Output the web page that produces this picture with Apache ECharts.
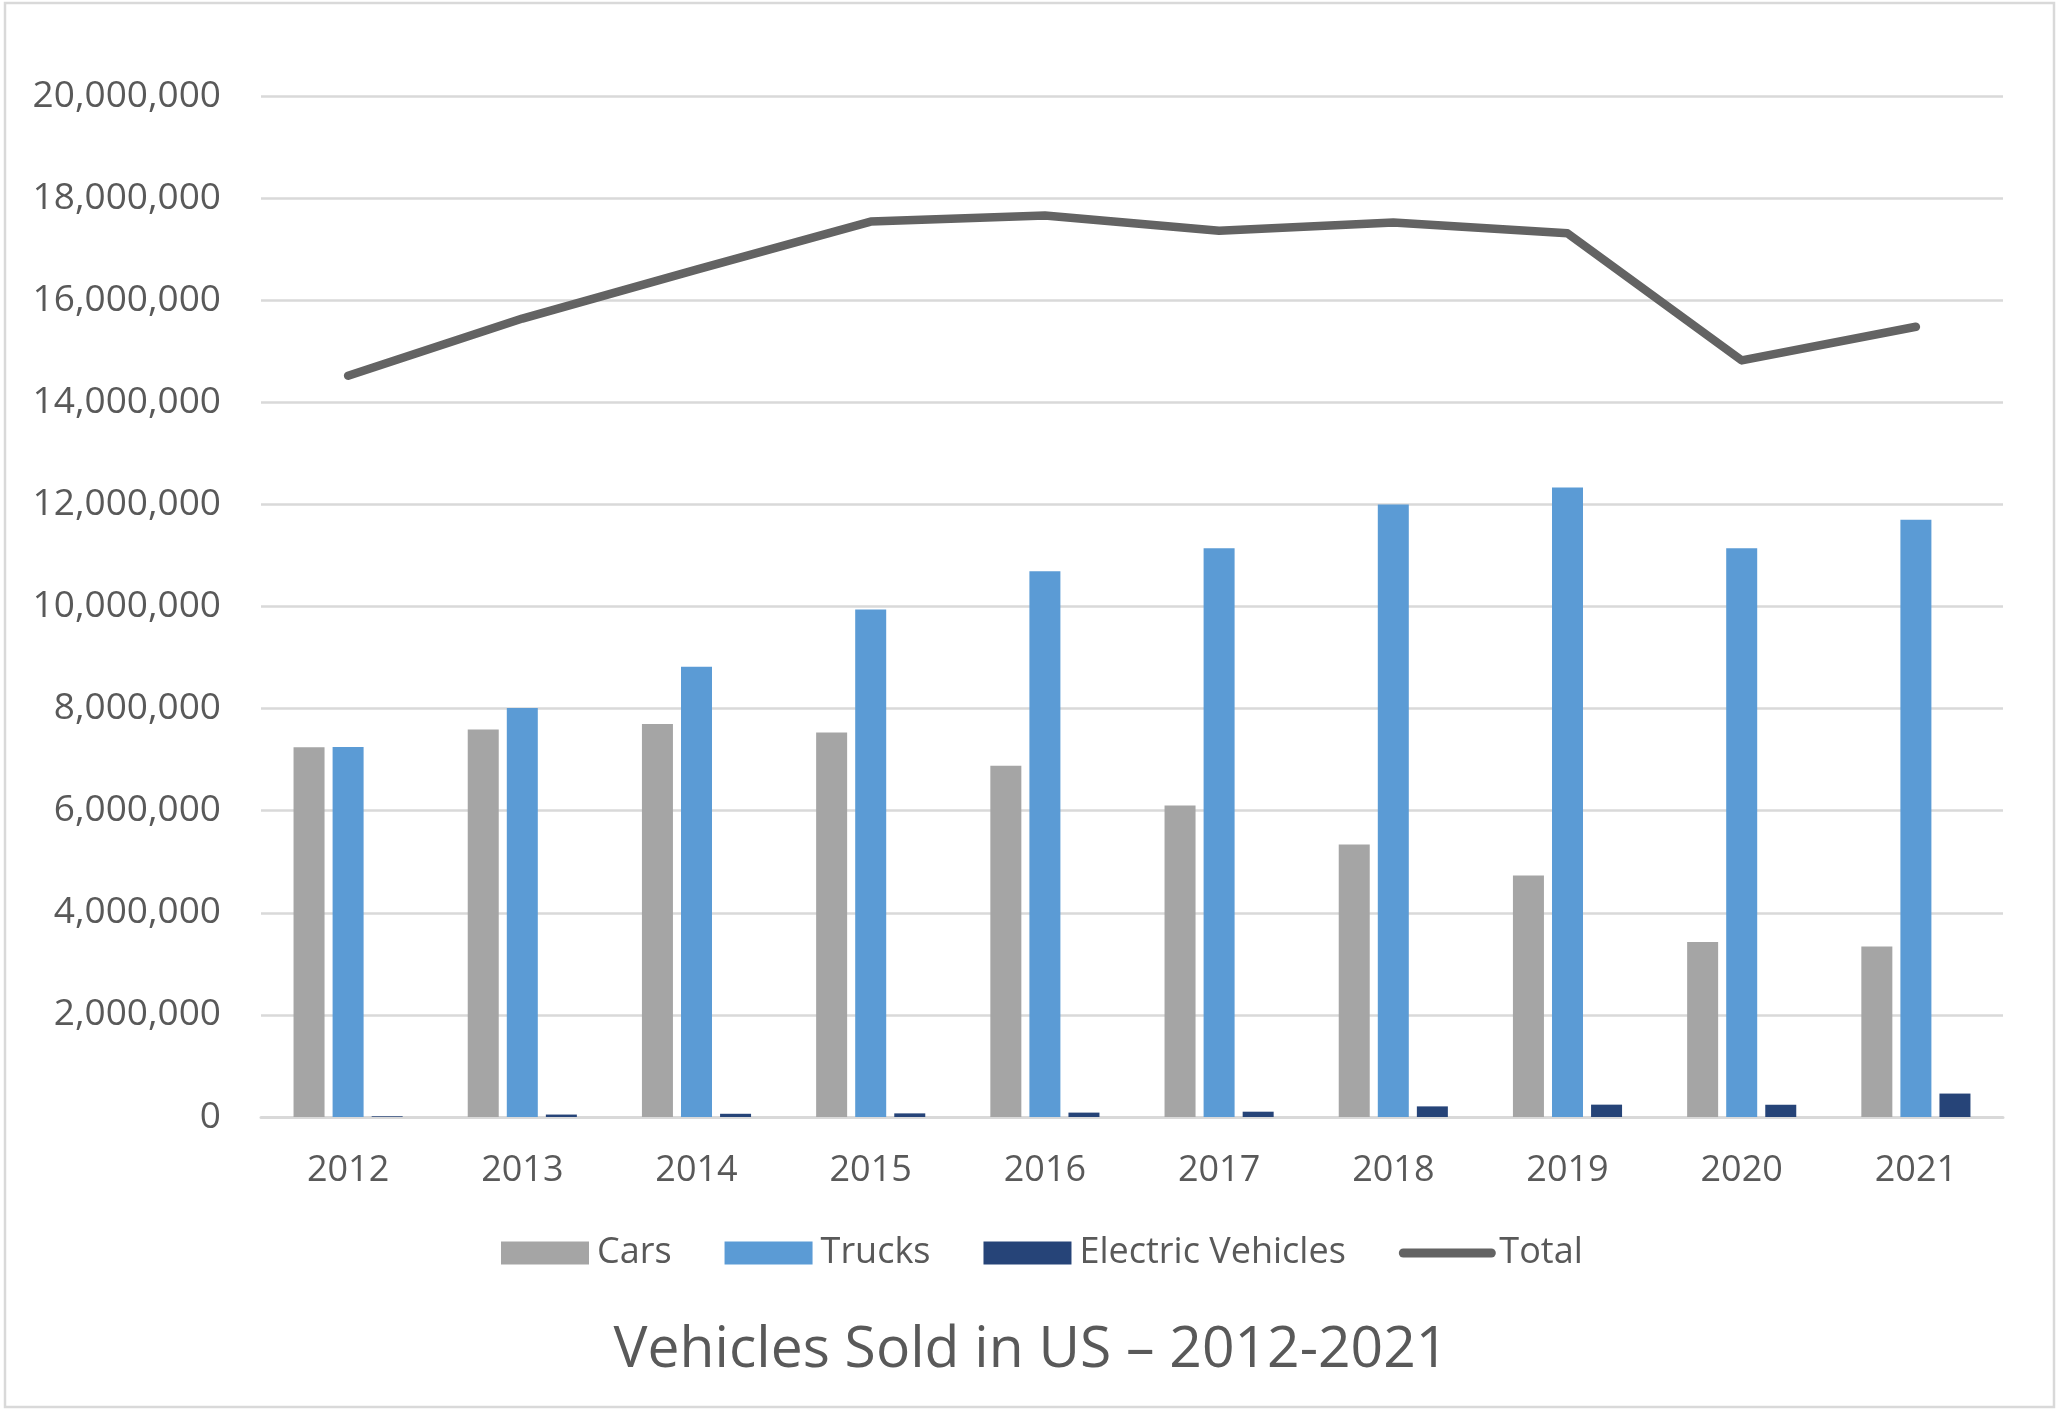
<!DOCTYPE html>
<html>
<head>
<meta charset="utf-8">
<script src="https://cdn.jsdelivr.net/npm/echarts@6/dist/echarts.min.js"></script>
<style>
  html, body { margin: 0; padding: 0; background: #ffffff; }
  #chart { width: 2062px; height: 1416px; }
</style>
</head>
<body>
<div id="chart"></div>
<script>
var years = ['2012', '2013', '2014', '2015', '2016', '2017', '2018', '2019', '2020', '2021'];
var cars = [7245000, 7590000, 7700000, 7530000, 6880000, 6100000, 5340000, 4730000, 3430000, 3340000];
var trucks = [7250000, 8010000, 8820000, 9940000, 10690000, 11140000, 12000000, 12330000, 11140000, 11700000];
var electric = [14000, 48000, 63000, 71000, 86000, 104000, 208000, 242000, 240000, 459000];
var total = [14520000, 15640000, 16600000, 17540000, 17660000, 17360000, 17520000, 17310000, 14820000, 15480000];
var yTicks = { min: 0, max: 20000000, interval: 2000000 };
var titleText = 'Vehicles Sold in US \u2013 2012-2021';

var FONT = '"Open Sans", "Noto Sans", sans-serif';
var TXT = '#595959';
var GRID = '#D9D9D9';
var LINE = '#636363';

var chart = echarts.init(document.getElementById('chart'), null, { renderer: 'canvas' });
chart.setOption({
  backgroundColor: '#ffffff',
  animation: false,
  textStyle: { fontFamily: FONT, color: TXT },
  title: {
    text: titleText,
    left: 'center',
    top: 1316,
    textStyle: { fontFamily: FONT, fontSize: 57, fontWeight: 'normal', color: TXT, lineHeight: 60 }
  },
  legend: {
    left: 496,
    top: 1230,
    itemWidth: 88,
    itemHeight: 23,
    itemGap: 53,
    textStyle: { fontFamily: FONT, fontSize: 36, color: TXT, padding: [0, 0, 0, 3], lineHeight: 36 },
    data: [
      { name: 'Cars', icon: 'rect' },
      { name: 'Trucks', icon: 'rect' },
      { name: 'Electric Vehicles', icon: 'rect' },
      {
        name: 'Total',
        itemStyle: { opacity: 0, color: 'rgba(0,0,0,0)', borderWidth: 0 },
        lineStyle: { width: 9, cap: 'round', color: LINE, opacity: 1 }
      }
    ]
  },
  graphic: [{
    type: 'rect',
    shape: { x: 5, y: 3, width: 2049, height: 1404 },
    style: { fill: 'none', stroke: GRID, lineWidth: 2.5 },
    silent: true,
    z: 100
  }],
  grid: { left: 261, right: 59, top: 96, bottom: 299, containLabel: false },
  xAxis: {
    type: 'category',
    data: years,
    axisLine: { show: true, lineStyle: { color: GRID, width: 3 } },
    axisTick: { show: false },
    axisLabel: { fontFamily: FONT, fontSize: 36, color: TXT, margin: 36 },
    splitLine: { show: false }
  },
  yAxis: {
    type: 'value',
    min: yTicks.min,
    max: yTicks.max,
    interval: yTicks.interval,
    axisLine: { show: false },
    axisTick: { show: false },
    axisLabel: {
      fontFamily: FONT, fontSize: 37, color: TXT, margin: 40,
      formatter: function (v) { return v.toLocaleString('en-US'); }
    },
    splitLine: { show: true, lineStyle: { color: GRID, width: 2.5 } }
  },
  series: [
    { name: 'Cars', type: 'bar', data: cars, barWidth: 31, barGap: '26%', itemStyle: { color: '#A5A5A5' } },
    { name: 'Trucks', type: 'bar', data: trucks, barWidth: 31, barGap: '26%', itemStyle: { color: '#5B9BD5' } },
    { name: 'Electric Vehicles', type: 'bar', data: electric, barWidth: 31, barGap: '26%', itemStyle: { color: '#264478' } },
    {
      name: 'Total', type: 'line', data: total, symbol: 'none', z: 10,
      lineStyle: { color: LINE, width: 8.5, cap: 'round', join: 'round' },
      itemStyle: { color: LINE }
    }
  ]
});
</script>
</body>
</html>
